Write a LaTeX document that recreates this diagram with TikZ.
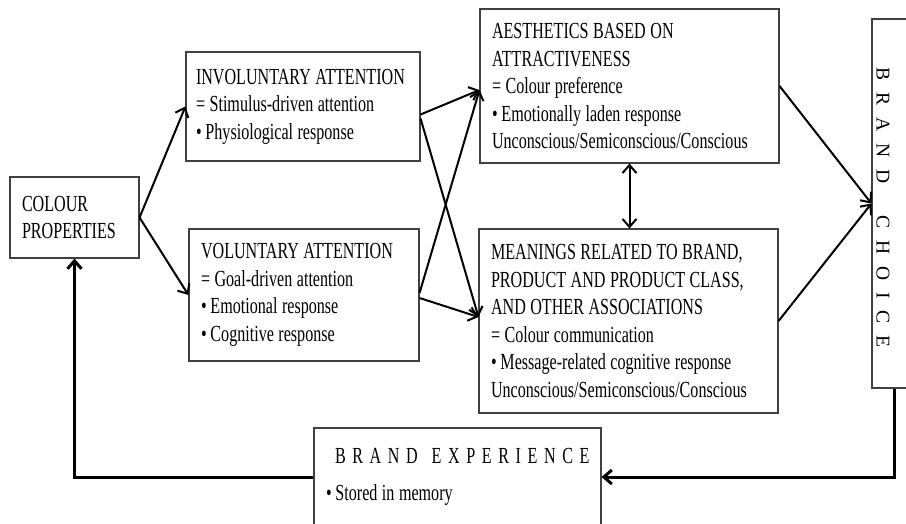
\documentclass[tikz,border=0pt]{standalone}
\usepackage{fontspec}
\setmainfont{Liberation Serif}[FakeStretch=0.70]
\newfontfamily\choicefont{Liberation Serif}
\usetikzlibrary{arrows.meta}
\hyphenpenalty=10000
\newcommand{\ls}{\hspace{6.6pt}}
\newcommand{\lw}{\hspace{12pt}}

\begin{document}
\begin{tikzpicture}[x=1pt, y=-1pt,
    >={Straight Barb[length=8pt, width=14pt]},
    box/.style={draw=black!75, line width=1.1pt, inner xsep=12pt, inner ysep=0pt, align=left,
        font=\fontsize{23}{27.5}\selectfont, execute at begin node={\spaceskip=4.5pt\relax}},
    arr/.style={line width=2pt, ->},
    back/.style={line width=3pt, ->}]
    \clip (0,0) rectangle (906,523);

    % Boxes on the left
    \node[box, text width=105pt, minimum height=81pt] (prop) at (74.5,217.5) {COLOUR\\PROPERTIES};
    \node[box, inner xsep=10pt, text width=214pt, minimum height=109pt] (invol) at (303,106.5) {INVOLUNTARY ATTENTION\\= Stimulus-driven attention\\\textbullet\,Physiological response};
    \node[box, text width=206pt, minimum height=132pt] (vol) at (304,295) {VOLUNTARY ATTENTION\\= Goal-driven attention\\\textbullet\,Emotional response\\\textbullet\,Cognitive response};

    % Boxes on the right
    \node[box, text width=275pt, minimum height=154pt] (aest) at (629.5,86) {AESTHETICS BASED ON\\ATTRACTIVENESS\\= Colour preference\\\textbullet\,Emotionally laden response\\Unconscious/Semiconscious/Conscious};
    \node[box, text width=275pt, minimum height=184pt] (mean) at (628.5,321) {MEANINGS RELATED TO BRAND,\\PRODUCT AND PRODUCT CLASS,\\AND OTHER ASSOCIATIONS\\= Colour communication\\\textbullet\,Message-related cognitive response\\Unconscious/Semiconscious/Conscious};

    % Brand choice column
    \node[draw=black!75, line width=1.1pt, minimum width=44pt, minimum height=369pt] (choice) at (894,203.5) {};
    \node[rotate=-90, font=\choicefont\fontsize{19.5}{19.5}\selectfont] (choicetxt) at (883,207.5) {B\lw R\lw A\lw N\lw D\hspace{32pt}C\lw H\lw O\lw I\lw C\lw E};

    % Brand experience at the bottom
    \node[box, text width=263pt, minimum height=98pt] (exper) at (457.5,477) {\mbox{\hspace*{9pt}B\ls R\ls A\ls N\ls D\hspace{14pt}E\ls X\ls P\ls E\ls R\ls I\ls E\ls N\ls C\ls E}\\[9pt]\textbullet\,Stored in memory};

    % Arrows from colour properties
    \draw[arr] (prop.east) -- (invol.west);
    \draw[arr] (prop.east) -- (vol.west);

    % Crossing arrows
    \draw[arr] ([yshift=-8pt]invol.east) -- ([yshift=-4pt]aest.west);
    \draw[arr] ([yshift=-12pt]invol.east) -- ([yshift=4pt]mean.west);
    \draw[arr] ([yshift=2pt]vol.east) -- ([yshift=-4pt]aest.west);
    \draw[arr] ([yshift=-3pt]vol.east) -- ([yshift=4pt]mean.west);
    \draw[line width=2pt, <->] (aest.south) -- (aest.south |- mean.north);

    % Arrows into brand choice
    \draw[arr] (aest.east) -- (choice.west);
    \draw[arr] (mean.east) -- (choice.west);

    % Feedback loop
    \draw[back] (choice.south) |- (exper.east);
    \draw[back] (exper.west) -| (prop.south);
\end{tikzpicture}
\end{document}
